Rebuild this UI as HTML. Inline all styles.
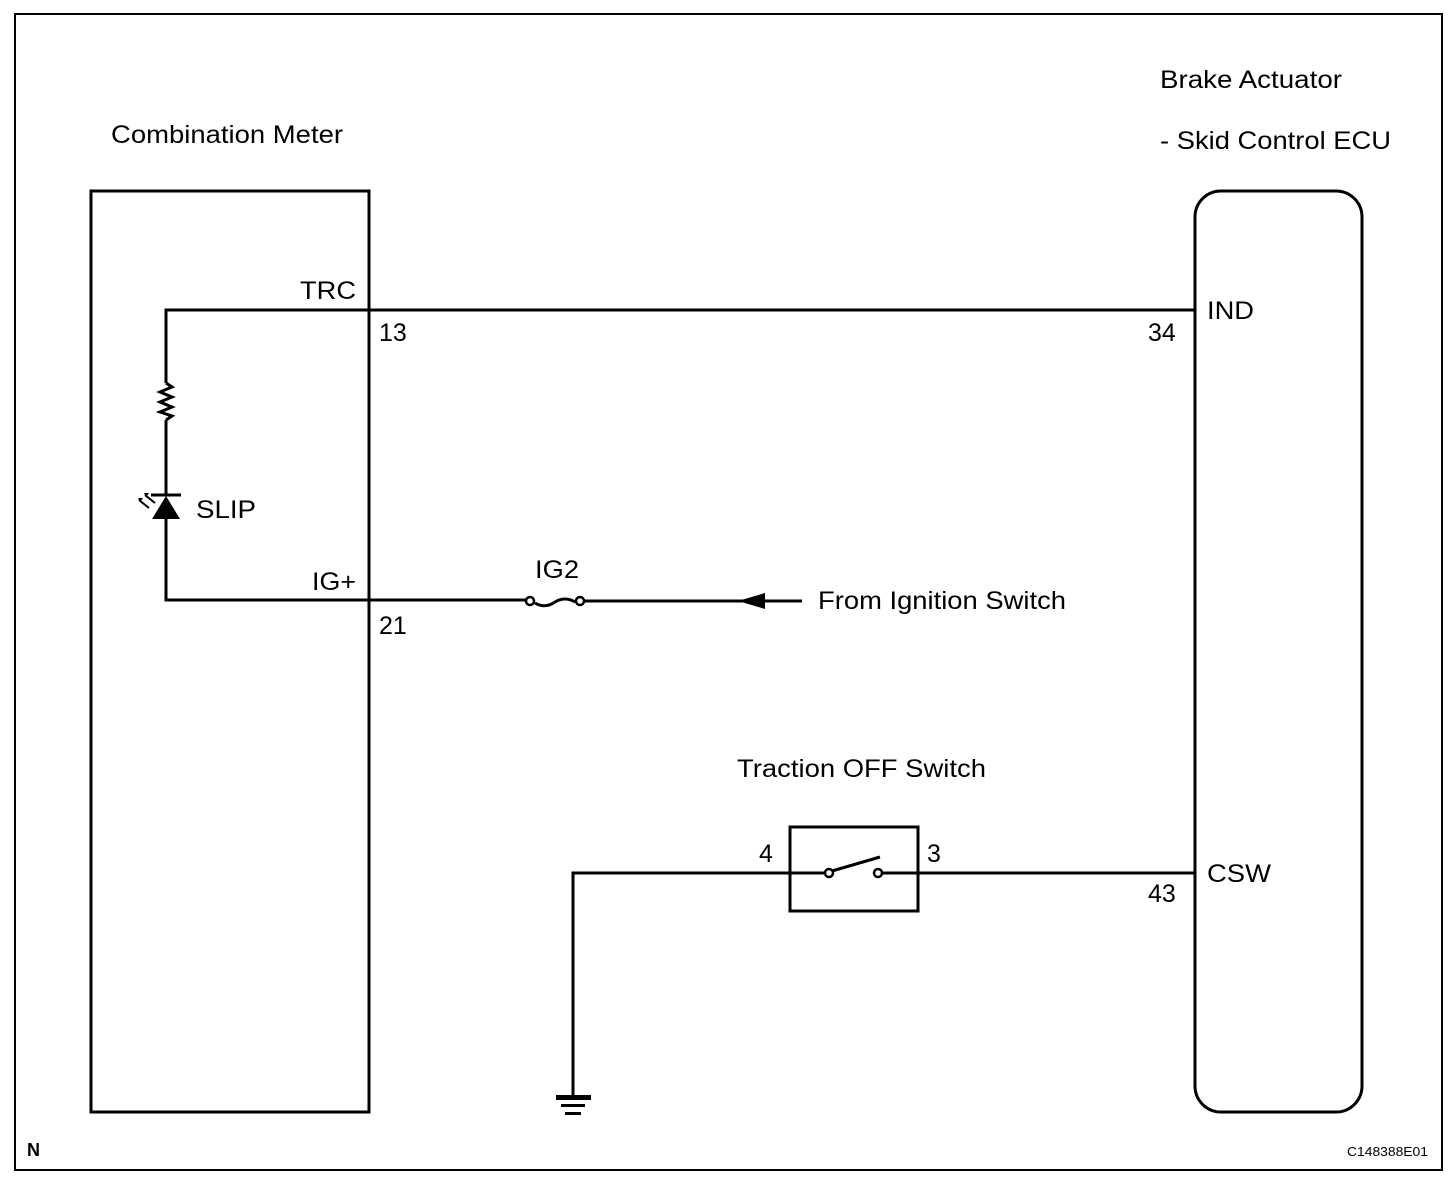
<!DOCTYPE html>
<html><head><style>html,body{margin:0;padding:0;background:#fff}svg{display:block}text{font-family:"Liberation Sans",Arial,sans-serif;fill:#000}</style></head>
<body>
<svg width="1456" height="1182" viewBox="0 0 1456 1182" xmlns="http://www.w3.org/2000/svg">
<rect x="0" y="0" width="1456" height="1182" fill="#fff"/>
<rect x="15" y="14" width="1427" height="1156" fill="none" stroke="#000" stroke-width="2"/>
<g stroke="#000" stroke-width="3" fill="none">
<rect x="91" y="191" width="278" height="921"/>
<rect x="1195" y="191" width="167" height="921" rx="26" ry="26"/>
<path d="M1195 310 H166 V383 M166 420 V495 M166 518 V600 H527"/>
<path d="M166 383 l6 4 l-12 5 l12 5 l-12 5 l12 5 l-12 5 l12 4 l-6 4"/>
<path d="M584 601 H802"/>
<path d="M535 603 q10 6 20 -1 q10 -6 20 0"/>
<circle cx="530" cy="601" r="4" stroke-width="2.5" fill="#fff"/>
<circle cx="580" cy="601" r="4" stroke-width="2.5" fill="#fff"/>
<path d="M1195 873 H882 M825 873 H573 V1096"/>
<rect x="790" y="827" width="128" height="84"/>
<path d="M832 871 L880 857"/>
<circle cx="829" cy="873" r="4" stroke-width="2.5" fill="#fff"/>
<circle cx="878" cy="873" r="4" stroke-width="2.5" fill="#fff"/>
</g>
<polygon points="738,601 765,593 765,609" fill="#000"/>
<polygon points="166,496 152,519 180,519" fill="#000"/>
<line x1="151" y1="495" x2="181" y2="495" stroke="#000" stroke-width="3"/>
<g stroke="#000" stroke-width="2">
<line x1="139" y1="500" x2="149" y2="508"/><line x1="145" y1="495" x2="155" y2="503"/>
</g>
<polygon points="138,498 143,498 140,502" fill="#000"/>
<polygon points="144,493 149,493 146,497" fill="#000"/>
<g fill="#000">
<rect x="556" y="1095" width="35" height="5"/>
<rect x="561" y="1104" width="24" height="3"/>
<rect x="565" y="1112" width="16" height="3"/>
</g>
<g font-size="25">
<text x="111" y="143" textLength="232" lengthAdjust="spacingAndGlyphs">Combination Meter</text>
<text x="1160" y="88" textLength="182" lengthAdjust="spacingAndGlyphs">Brake Actuator</text>
<text x="1160" y="149" textLength="231" lengthAdjust="spacingAndGlyphs">- Skid Control ECU</text>
<text x="300" y="299" textLength="56" lengthAdjust="spacingAndGlyphs">TRC</text>
<text x="379" y="341">13</text>
<text x="1207" y="319" textLength="47" lengthAdjust="spacingAndGlyphs">IND</text>
<text x="1148" y="341">34</text>
<text x="196" y="518" textLength="60" lengthAdjust="spacingAndGlyphs">SLIP</text>
<text x="312" y="590" textLength="44" lengthAdjust="spacingAndGlyphs">IG+</text>
<text x="379" y="634">21</text>
<text x="535" y="578" textLength="44" lengthAdjust="spacingAndGlyphs">IG2</text>
<text x="818" y="609" textLength="248" lengthAdjust="spacingAndGlyphs">From Ignition Switch</text>
<text x="737" y="777" textLength="249" lengthAdjust="spacingAndGlyphs">Traction OFF Switch</text>
<text x="759" y="862">4</text>
<text x="927" y="862">3</text>
<text x="1207" y="882" textLength="64" lengthAdjust="spacingAndGlyphs">CSW</text>
<text x="1148" y="902">43</text>
</g>
<text x="27" y="1156" font-size="18" font-weight="bold">N</text>
<text x="1347" y="1156" font-size="13" textLength="81" lengthAdjust="spacingAndGlyphs">C148388E01</text>
</svg>
</body></html>
